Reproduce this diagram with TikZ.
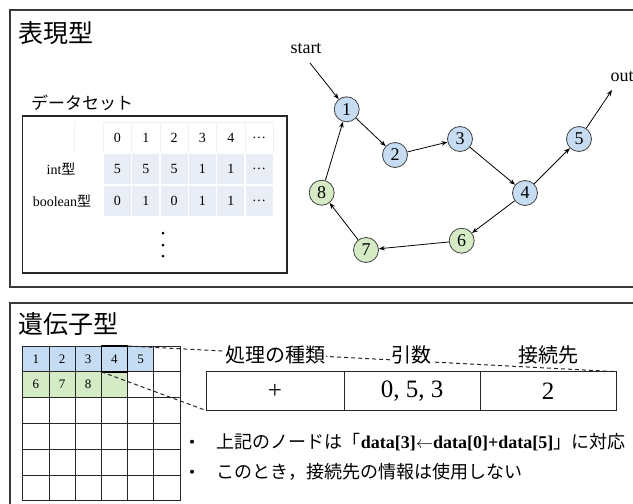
\documentclass[tikz,border=0pt]{standalone}
\usepackage{fontspec}
\setmainfont{Liberation Serif}
\newfontfamily\jp{Noto Sans CJK JP}
\usetikzlibrary{arrows.meta}
\definecolor{nblue}{HTML}{C6DCF2}
\definecolor{ngreen}{HTML}{D5EBC6}
\definecolor{cellbg}{HTML}{E9EEF6}
\definecolor{frame}{HTML}{3A3A3A}
\newcommand{\fs}[1]{\fontsize{#1}{#1}\selectfont}
\begin{document}
\begin{tikzpicture}[x=1pt,y=-1pt,
  panel/.style={draw=frame, line width=1.3pt},
  gnode/.style={circle, draw=black!75, line width=0.8pt, minimum size=25pt, inner sep=0pt, font=\fs{18}},
  bnode/.style={gnode, fill=nblue},
  grnode/.style={gnode, fill=ngreen},
  edge/.style={-{Stealth[length=6pt,width=4.5pt]}, line width=0.8pt},
  hdr/.style={font=\fs{14}},
  dcell/.style={fill=cellbg, draw=white, line width=1.2pt},
  gcell/.style={draw=black!85, line width=0.8pt},
  gnum/.style={font=\fs{13}},
  zoomline/.style={draw=black!85, line width=1pt, dash pattern=on 4pt off 3pt},
  lbl/.style={font=\jp\fs{20}, fill=white, inner sep=1pt},
  bullet/.style={anchor=west, font=\jp\fs{18}, inner sep=0pt},
  bdot/.style={circle, fill=black, inner sep=0pt, minimum size=4pt}
]
\useasboundingbox (0,0) rectangle (633,504);
% panels
\draw[panel] (640,10) -- (10,10) -- (10,287) -- (640,287);
\draw[panel] (640,303) -- (10,303) -- (10,510);
\node[anchor=west, font=\jp\fs{25}, inner sep=0pt] (t1) at (18,33) {表現型};
\node[anchor=west, font=\jp\fs{25}, inner sep=0pt] (t2) at (18,324) {遺伝子型};
% dataset
\node[anchor=west, font=\jp\fs{17}, inner sep=0pt] (ds) at (31,103) {データセット};
\draw[line width=1.2pt, draw=black!85] (22.7,116) rectangle (287,273);
\foreach \i/\h in {0/0,1/1,2/2,3/3,4/4,5/\dots}{
  \pgfmathsetmacro{\xa}{103.3+28.33*\i}
  \pgfmathsetmacro{\xb}{\xa+28.33}
  \draw[draw=gray!12, line width=0.6pt] (\xa,122) rectangle (\xb,153);
  \node[hdr] (h\i) at ({(\xa+\xb)/2},137.5) {\h};
}
\draw[draw=gray!12, line width=0.6pt] (74,122) -- (74,153);
\foreach \i/\v in {0/5,1/5,2/5,3/1,4/1,5/\dots}{
  \pgfmathsetmacro{\xa}{103.3+28.33*\i}
  \pgfmathsetmacro{\xb}{\xa+28.33}
  \draw[dcell] (\xa,153) rectangle (\xb,185);
  \node[hdr] (r1c\i) at ({(\xa+\xb)/2},169) {\v};
}
\foreach \i/\v in {0/0,1/1,2/0,3/1,4/1,5/\dots}{
  \pgfmathsetmacro{\xa}{103.3+28.33*\i}
  \pgfmathsetmacro{\xb}{\xa+28.33}
  \draw[dcell] (\xa,185) rectangle (\xb,217);
  \node[hdr] (r2c\i) at ({(\xa+\xb)/2},201) {\v};
}
\node[hdr] (lint) at (61,169) {int{\jp 型}};
\node[hdr] (lbool) at (62,201) {boolean{\jp 型}};
\foreach \y in {233,245,256} \fill (163,\y) circle (1.5pt);
% graph
\node[bnode] (n1) at (346.7,109.3) {1};
\node[bnode] (n2) at (395,155) {2};
\node[bnode] (n3) at (460,139) {3};
\node[bnode] (n4) at (525,193) {4};
\node[bnode] (n5) at (579,139) {5};
\node[grnode] (n6) at (461.7,240.7) {6};
\node[grnode] (n7) at (366,250) {7};
\node[grnode] (n8) at (321.7,192.7) {8};
\node[font=\fs{18}, inner sep=1pt] (start) at (306,49) {start};
\node[font=\fs{18}, inner sep=1pt] (out) at (622,77) {out};
\coordinate (s0) at (310,63);
\coordinate (o0) at (612,90);
\draw[edge] (s0) -- (n1);
\draw[edge] (n1) -- (n2);
\draw[edge] (n2) -- (n3);
\draw[edge] (n3) -- (n4);
\draw[edge] (n4) -- (n5);
\draw[edge] (n5) -- (o0);
\draw[edge] (n4) -- (n6);
\draw[edge] (n6) -- (n7);
\draw[edge] (n7) -- (n8);
\draw[edge] (n8) -- (n1);
% genotype grid
\foreach \c/\v in {0/1,1/2,2/3,3/4,4/5}{
  \fill[nblue] ({22.7+26.2*\c},346) rectangle ({22.7+26.2*(\c+1)},371.8);
  \node[gnum] (g1c\c) at ({22.7+26.2*(\c+0.5)},358.9) {\v};
}
\foreach \c/\v in {0/6,1/7,2/8,3/{}}{
  \fill[ngreen] ({22.7+26.2*\c},371.8) rectangle ({22.7+26.2*(\c+1)},397.6);
  \node[gnum] (g2c\c) at ({22.7+26.2*(\c+0.5)},384.7) {\v};
}
\foreach \c in {0,...,6} \draw[gcell] ({22.7+26.2*\c},346) -- ({22.7+26.2*\c},500.8);
\foreach \r in {0,...,6} \draw[gcell] (22.7,{346+25.8*\r}) -- (179.9,{346+25.8*\r});
\draw[line width=1.6pt, draw=black] (101.3,346) rectangle (127.5,371.8);
\coordinate (c4tr) at (127.5,346);
\coordinate (c4bl) at (101.3,371.8);
% gene table
\draw[line width=1pt, draw=black!85] (206.7,371.7) rectangle (616.7,410.7);
\draw[line width=1pt, draw=black!85] (344,371.7) -- (344,410.7);
\draw[line width=1pt, draw=black!85] (480,371.7) -- (480,410.7);
\coordinate (ttr) at (616.7,371.7);
\coordinate (tbl) at (206.7,410.7);
\draw[zoomline] (c4tr) -- (ttr);
\draw[zoomline] (c4bl) -- (tbl);
\node[lbl] (k1) at (275,355) {処理の種類};
\node[lbl] (k2) at (411.7,355) {引数};
\node[lbl] (k3) at (548,355) {接続先};
\node[font=\fs{25}] (v1) at (275,391) {+};
\node[font=\fs{25}] (v2) at (412,391) {0, 5, 3};
\node[font=\fs{25}] (v3) at (548,391) {2};
% bullets
\node[bdot] (b1) at (192,441.7) {};
\node[bdot] (b2) at (192,471.7) {};
\node[bullet] (l1) at (216.7,441.7) {上記のノードは「{\rmfamily\bfseries data[3]$\leftarrow$data[0]+data[5]}」に対応};
\node[bullet] (l2) at (216.7,471.7) {このとき，接続先の情報は使用しない};
\end{tikzpicture}
\end{document}
